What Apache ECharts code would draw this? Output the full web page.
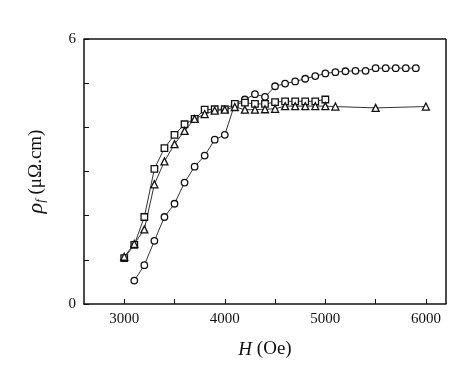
<!DOCTYPE html>
<html><head><meta charset="utf-8">
<script src="https://cdn.jsdelivr.net/npm/echarts@6/dist/echarts.min.js"></script>
<style>html,body{margin:0;padding:0;background:#fff}#c{width:474px;height:391px}</style>
</head><body><div id="c"></div>
<script>
const xTicks = [3000, 3500, 4000, 4500, 5000, 5500, 6000];
const xLabels = [3000, 4000, 5000, 6000];
const yLabels = [0, 6];

const circleH = [3100,3200,3300,3400,3500,3600,3700,3800,3900,4000,4100,4200,4300,4400,4500,4600,4700,4800,4900,5000,5100,5200,5300,5400,5500,5600,5700,5800,5900];
const circleV = [0.53,0.88,1.43,1.97,2.27,2.75,3.11,3.36,3.72,3.83,4.53,4.63,4.75,4.69,4.93,4.99,5.04,5.10,5.16,5.22,5.25,5.27,5.28,5.28,5.34,5.34,5.34,5.34,5.34];

const squareH = [3000,3100,3200,3300,3400,3500,3600,3700,3800,3900,4000,4100,4200,4300,4400,4500,4600,4700,4800,4900,5000];
const squareV = [1.04,1.34,1.97,3.06,3.53,3.83,4.07,4.19,4.40,4.41,4.41,4.53,4.56,4.53,4.53,4.57,4.59,4.59,4.59,4.59,4.63];

const triH = [3000,3100,3200,3300,3400,3500,3600,3700,3800,3900,4000,4100,4200,4300,4400,4500,4600,4700,4800,4900,5000,5100,5500,6000];
const triV = [1.07,1.36,1.69,2.71,3.23,3.62,3.92,4.19,4.30,4.38,4.40,4.46,4.40,4.40,4.41,4.42,4.48,4.48,4.48,4.48,4.48,4.47,4.44,4.47];

const zip = (a, b) => a.map((v, i) => [v, b[i]]);
const font = 'Liberation Serif';
const mk = (name, h, v, sym, size) => ({
  name, type: 'line', data: zip(h, v), symbol: sym, symbolSize: size,
  showSymbol: true,
  lineStyle: { color: '#333', width: 1 },
  itemStyle: { color: '#fff', borderColor: '#111', borderWidth: 1.3 },
  emphasis: { disabled: true }, animation: false, z: 3
});

const chart = echarts.init(document.getElementById('c'), null, { renderer: 'canvas' });
chart.setOption({
  backgroundColor: '#fff',
  animation: false,
  grid: { left: 84, top: 39, right: 28, bottom: 87 },
  xAxis: {
    type: 'value', min: 2600, max: 6200,
    name: '{i|H} (Oe)', nameLocation: 'middle', nameGap: 36,
    nameTextStyle: { fontFamily: font, fontSize: 19, color: '#111', rich: { i: { fontFamily: font, fontStyle: 'italic', fontSize: 19, color: '#111' } } },
    axisLine: { onZero: false, lineStyle: { color: '#111', width: 1.5 } },
    axisTick: { inside: true, length: 5, customValues: xTicks, lineStyle: { color: '#111', width: 1 } },
    axisLabel: { customValues: xLabels, fontFamily: font, fontSize: 15, color: '#111', margin: 8,
      formatter: v => String(v) },
    splitLine: { show: false }
  },
  yAxis: {
    type: 'value', min: 0, max: 6, interval: 1,
    name: '{r|ρ}{s|f} (μΩ.cm)', nameLocation: 'middle', nameGap: 37, nameRotate: 90,
    nameTextStyle: { fontFamily: font, fontSize: 19, color: '#111',
      rich: { r: { fontFamily: font, fontStyle: 'italic', fontSize: 22, color: '#111' },
              s: { fontFamily: font, fontStyle: 'italic', fontSize: 13, color: '#111', verticalAlign: 'bottom', padding: [8, 0, 0, 0] } } },
    axisLine: { onZero: false, lineStyle: { color: '#111', width: 1.5 } },
    axisTick: { inside: true, length: 5, lineStyle: { color: '#111', width: 1 } },
    axisLabel: { fontFamily: font, fontSize: 15, color: '#111', margin: 8,
      formatter: v => (yLabels.indexOf(v) >= 0 ? String(v) : '') },
    splitLine: { show: false }
  },
  series: [
    mk('circle', circleH, circleV, 'circle', 6.5),
    mk('square', squareH, squareV, 'rect', 6.5),
    mk('triangle', triH, triV, 'triangle', 7),
    { type: 'line', data: [], markLine: { silent: true, symbol: 'none', animation: false,
        lineStyle: { color: '#111', width: 1.5, type: 'solid' }, label: { show: false },
        data: [ [{ coord: [2600, 6] }, { coord: [6200, 6] }], [{ coord: [6200, 0] }, { coord: [6200, 6] }] ] } }
  ]
});
</script></body></html>
